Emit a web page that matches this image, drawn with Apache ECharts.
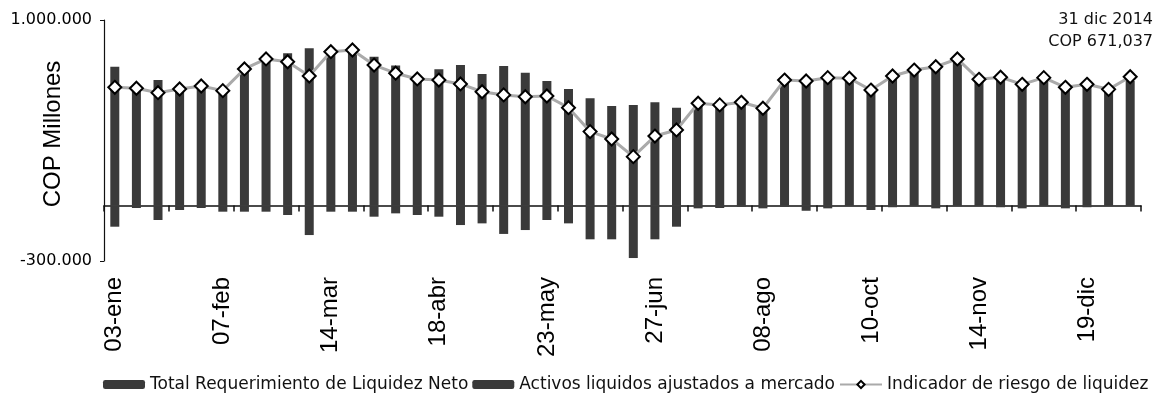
<!DOCTYPE html>
<html><head><meta charset="utf-8">
<script src="https://cdn.jsdelivr.net/npm/echarts@6/dist/echarts.min.js"></script>
<style>html,body{margin:0;padding:0;background:#fff}#c{width:1171px;height:402px}</style>
</head><body><div id="c"></div>
<script>
const categories = ['03-ene','10-ene','17-ene','24-ene','31-ene','07-feb','14-feb','21-feb','28-feb','07-mar',
  '14-mar','21-mar','28-mar','04-abr','11-abr','18-abr','25-abr','02-may','09-may','16-may',
  '23-may','30-may','06-jun','13-jun','20-jun','27-jun','04-jul','11-jul','18-jul','25-jul',
  '08-ago','15-ago','29-ago','12-sep','26-sep','10-oct','17-oct','24-oct','31-oct','07-nov',
  '14-nov','21-nov','28-nov','05-dic','12-dic','19-dic','26-dic','31-dic'];
const activos = [748000,649000,676000,640000,649000,633000,748000,802000,820000,847000,
  838000,856000,802000,754000,694000,734000,757000,709000,752000,716000,
  671000,628000,578000,536000,542000,556000,527000,536000,525000,542000,
  509000,660000,655000,671000,671000,606000,682000,714000,730000,779000,
  666000,676000,639000,676000,622000,639000,612000,671037];
const requerimiento = [-115000,-14000,-79000,-25000,-14000,-34000,-34000,-34000,-52000,-160000,
  -34000,-34000,-61000,-43000,-52000,-61000,-106000,-97000,-154000,-133000,
  -79000,-97000,-183000,-183000,-284000,-183000,-115000,-16000,-14000,-7000,
  -16000,-7000,-29000,-16000,-3000,-25000,-10000,-3000,-16000,-3000,
  -3000,-10000,-16000,-3000,-16000,-10000,-3000,-3000];
const indicador = [637000,632000,608000,628000,644000,619000,736000,790000,775000,698000,
  829000,838000,757000,713000,682000,676000,655000,613000,596000,586000,
  590000,527000,398000,358000,263000,374000,407000,551000,542000,556000,
  524000,676000,671000,689000,686000,622000,698000,730000,748000,790000,
  680000,691000,653000,689000,637000,653000,626000,694000];
const yTickValues = [-300000, 1000000];
const yAxisTitle = 'COP Millones';
const annotationLines = ['31 dic 2014', 'COP 671,037'];

function fmt(v) {
  const s = Math.abs(v).toString().replace(/\B(?=(\d{3})+(?!\d))/g, '.');
  return (v < 0 ? '-' : '') + s;
}

const chart = echarts.init(document.getElementById('c'), null, {renderer: 'canvas'});
const barColor = '#3a3a3a';
chart.setOption({
  animation: false,
  backgroundColor: '#fff',
  grid: {left: 104, right: 30, top: 20, bottom: 141, containLabel: false, outerBoundsMode: 'none'},
  legend: {
    left: 98, top: 371, itemWidth: 42, itemHeight: 9, itemGap: 4, width: 1073,
    textStyle: {fontFamily: 'DejaVu Sans', fontSize: 17, color: '#111'},
    data: ['Total Requerimiento de Liquidez Neto', 'Activos liquidos ajustados a mercado', 'Indicador de riesgo de liquidez']
  },
  graphic: annotationLines.map((t, i) => ({
    type: 'text', right: 18, top: 12 + i * 22,
    style: {text: t, fontFamily: 'DejaVu Sans', fontSize: 16, fill: '#111', textAlign: 'right'}
  })).concat([{
    type: 'text', x: 53, y: 134, rotation: Math.PI / 2,
    style: {text: yAxisTitle, fontFamily: 'Liberation Sans', fontSize: 24, fill: '#000',
      textAlign: 'center', textVerticalAlign: 'middle'}
  }]),
  xAxis: [{
    type: 'category', data: categories, position: 'bottom',
    axisLine: {show: false, onZero: false}, axisTick: {show: false},
    axisLabel: {rotate: 90, interval: 4, margin: 16, fontSize: 24, fontFamily: 'Liberation Sans', color: '#000'}
  }, {
    type: 'category', data: categories, position: 'bottom',
    axisLine: {show: true, onZero: true, lineStyle: {color: '#111', width: 1.5}},
    axisTick: {show: true, interval: 2, length: 6, lineStyle: {color: '#111', width: 1.5}},
    axisLabel: {show: false}, splitLine: {show: false}
  }],
  yAxis: {
    type: 'value', min: -300000, max: 1000000, interval: 100000,
    axisLine: {show: true, lineStyle: {color: '#111', width: 1.2}},
    axisTick: {show: true, customValues: yTickValues, length: 4, lineStyle: {color: '#111'}},
    axisLabel: {customValues: yTickValues, formatter: fmt, fontSize: 16, fontFamily: 'DejaVu Sans', color: '#000', margin: 12},
    splitLine: {show: false}
  },
  series: [{
    name: 'Total Requerimiento de Liquidez Neto', type: 'bar', data: requerimiento,
    barWidth: 9, barGap: '-100%', itemStyle: {color: barColor}
  }, {
    name: 'Activos liquidos ajustados a mercado', type: 'bar', data: activos,
    barWidth: 9, barGap: '-100%', itemStyle: {color: barColor}
  }, {
    name: 'Indicador de riesgo de liquidez', type: 'line', data: indicador, z: 3,
    symbol: 'diamond', symbolSize: 13,
    lineStyle: {color: '#aaaaaa', width: 3},
    itemStyle: {color: '#fff', borderColor: '#000', borderWidth: 2}
  }]
});
</script></body></html>
